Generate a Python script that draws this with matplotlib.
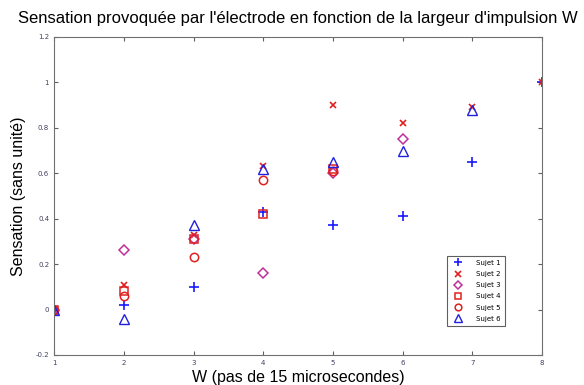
import numpy as np
import matplotlib
matplotlib.use("Agg")
import matplotlib.pyplot as plt

W = [1, 2, 3, 4, 5, 6, 7, 8]
nan = np.nan
sujet1 = [0, 0.02, 0.10, 0.43, 0.37, 0.41, 0.65, 1.0]
sujet2 = [0, 0.11, 0.33, 0.63, 0.90, 0.82, 0.89, 1.0]
sujet3 = [0, 0.26, 0.31, 0.16, 0.60, 0.75, nan, nan]
sujet4 = [0, 0.08, 0.31, 0.42, 0.62, nan, nan, nan]
sujet5 = [0, 0.06, 0.23, 0.57, 0.61, nan, nan, nan]
sujet6 = [0, -0.04, 0.37, 0.62, 0.65, 0.70, 0.88, nan]
labels = ["Sujet 1", "Sujet 2", "Sujet 3", "Sujet 4", "Sujet 5", "Sujet 6"]

fig = plt.figure(figsize=(5.84, 3.85), dpi=100)
ax = fig.add_axes([0.0925, 0.078, 0.836, 0.826])

# marker style for each subject (matlab-like)
styles = [
    dict(marker="+", color="#1a1aff", ms=7, mew=1.2),
    dict(marker="x", color="#e02020", ms=5, mew=1.2),
    dict(marker="D", color="#c0309a", ms=5, mew=1.1, mfc="none"),
    dict(marker="s", color="#e02020", ms=5.5, mew=1.1, mfc="none"),
    dict(marker="o", color="#e02020", ms=6, mew=1.1, mfc="none"),
    dict(marker="^", color="#2020e0", ms=7, mew=1.0, mfc="none"),
]
for data, lab, st in zip([sujet1, sujet2, sujet3, sujet4, sujet5, sujet6], labels, styles):
    ax.plot(W, data, linestyle="none", label=lab, **st)

ax.set_xlim(1, 8)
ax.set_ylim(-0.2, 1.2)
ax.set_xticks(W)
ax.set_yticks([-0.2, 0, 0.2, 0.4, 0.6, 0.8, 1.0, 1.2])
ax.set_yticklabels(["-0.2", "0", "0.2", "0.4", "0.6", "0.8", "1", "1.2"])
ax.tick_params(direction="in", top=True, right=True, labelsize=5, length=3,
               labelcolor="#404060", color="#606060")
for s in ax.spines.values():
    s.set_color("#707070")

ax.set_title("Sensation provoquée par l'électrode en fonction de la largeur d'impulsion W",
             fontsize=12, family="Liberation Sans", pad=10)
ax.set_xlabel("W (pas de 15 microsecondes)", fontsize=11.5, family="Liberation Sans", labelpad=3)
ax.set_ylabel("Sensation (sans unité)", fontsize=11.5, family="Liberation Sans", labelpad=7)

leg = ax.legend(loc="lower right", bbox_to_anchor=(0.93, 0.08), fontsize=5,
                fancybox=False, edgecolor="#606060", framealpha=1,
                handletextpad=1.5, borderpad=0.6, labelspacing=0.75, markerscale=0.8)
leg.get_frame().set_linewidth(0.8)

fig.savefig("out.png", dpi=100)
